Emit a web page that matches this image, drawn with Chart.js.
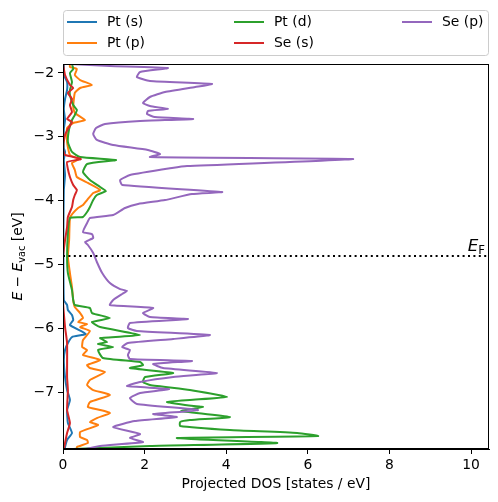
<!DOCTYPE html>
<html>
<head>
<meta charset="utf-8">
<script src="https://cdn.jsdelivr.net/npm/chart.js@4.4.1/dist/chart.umd.min.js"></script>
<style>
  html, body { margin: 0; padding: 0; background: #fff; }
  canvas { display: block; }
</style>
</head>
<body>
<canvas id="chart" width="498" height="502"></canvas>
<script>
// projected DOS: [energy (eV), states / eV]
const ptS = [[-1.859,0.02],[-2.031,0.02],[-2.141,0.10],[-2.266,0.10],[-2.408,0.05],[-2.564,0.02],[-2.737,0.05],[-2.878,0.02],[-3.176,0.02],[-3.238,0.05],[-3.364,0.02],[-3.599,0.05],[-3.834,0.02],[-4.5,0.01],[-5.558,0.02],[-5.636,0.10],[-5.715,0.12],[-5.793,0.22],[-5.871,0.25],[-5.950,0.17],[-6.091,0.56],[-6.138,0.22],[-6.232,0.12],[-6.342,0.05],[-6.498,0.02],[-6.765,0.05],[-6.969,0.10],[-7.125,0.17],[-7.282,0.10],[-7.486,0.12],[-7.643,0.22],[-7.752,0.10],[-7.862,0.05],[-7.893,0.05]]

const ptP = [[-1.859,0.17],[-1.906,0.17],[-1.937,0.34],[-2.031,0.29],[-2.110,0.42],[-2.188,0.71],[-2.235,0.42],[-2.313,0.29],[-2.533,0.25],[-2.627,0.29],[-2.737,0.54],[-2.784,0.25],[-2.862,0.10],[-3.082,0.10],[-3.285,0.17],[-3.348,0.39],[-3.411,0.22],[-3.520,0.29],[-3.630,0.34],[-3.724,0.61],[-3.834,0.91],[-3.881,0.74],[-3.991,0.59],[-4.069,0.49],[-4.116,0.37],[-4.194,0.25],[-4.273,0.17],[-4.618,0.15],[-4.884,0.12],[-5.135,0.17],[-5.354,0.22],[-5.558,0.25],[-5.668,0.29],[-5.762,0.42],[-5.840,0.49],[-5.903,0.37],[-5.934,0.59],[-5.981,0.42],[-6.044,0.66],[-6.185,0.49],[-6.295,0.47],[-6.342,0.59],[-6.420,0.49],[-6.498,0.91],[-6.577,0.59],[-6.624,0.66],[-6.687,1.03],[-6.812,0.66],[-6.890,0.59],[-6.969,0.74],[-7.047,1.15],[-7.157,0.66],[-7.235,0.61],[-7.282,0.91],[-7.329,1.15],[-7.408,0.83],[-7.470,0.66],[-7.517,0.86],[-7.627,0.42],[-7.705,0.42],[-7.752,0.59],[-7.799,0.61],[-7.862,0.34],[-7.893,0.34]]

const ptD = [[-1.859,0.22],[-1.937,0.25],[-2.000,0.17],[-2.141,0.22],[-2.266,0.17],[-2.345,0.17],[-2.502,0.25],[-2.580,0.34],[-2.658,0.29],[-2.737,0.22],[-2.878,0.15],[-3.082,0.12],[-3.238,0.22],[-3.317,0.42],[-3.364,1.30],[-3.426,0.59],[-3.552,0.49],[-3.677,0.66],[-3.787,0.91],[-3.850,1.05],[-3.912,0.83],[-3.991,0.74],[-4.100,0.66],[-4.179,0.59],[-4.257,0.49],[-4.273,0.17],[-4.508,0.12],[-4.884,0.10],[-5.135,0.12],[-5.401,0.22],[-5.558,0.25],[-5.636,0.29],[-5.683,0.66],[-5.762,0.71],[-5.840,1.15],[-5.903,0.71],[-5.981,0.91],[-6.107,1.89],[-6.154,0.91],[-6.216,1.08],[-6.248,0.86],[-6.295,1.23],[-6.342,0.86],[-6.467,0.98],[-6.530,1.89],[-6.577,1.96],[-6.624,1.64],[-6.702,2.70],[-6.765,2.01],[-6.843,1.96],[-6.890,2.13],[-6.969,3.11],[-7.078,4.02],[-7.125,3.11],[-7.157,2.55],[-7.204,2.99],[-7.235,3.43],[-7.298,2.90],[-7.392,4.09],[-7.439,3.11],[-7.470,2.87],[-7.533,2.87],[-7.596,4.09],[-7.643,5.74],[-7.690,6.25],[-7.721,2.79],[-7.799,5.25],[-7.846,2.13],[-7.893,0.25]]

const seS = [[-1.859,0.00],[-2.031,0.05],[-2.188,0.17],[-2.235,0.25],[-2.313,0.12],[-2.408,0.22],[-2.502,0.17],[-2.611,0.22],[-2.721,0.10],[-2.768,0.22],[-2.878,0.12],[-2.972,0.05],[-3.191,0.00],[-3.285,0.05],[-3.348,0.44],[-3.395,0.10],[-3.505,0.12],[-3.630,0.17],[-3.755,0.25],[-3.834,0.34],[-3.912,0.29],[-3.991,0.25],[-4.100,0.22],[-4.257,0.12],[-4.414,0.10],[-4.618,0.05],[-4.884,0.00],[-5.558,0.00],[-5.981,0.05],[-6.232,0.10],[-6.765,0.10],[-6.969,0.12],[-7.282,0.10],[-7.486,0.17],[-7.643,0.10],[-7.799,0.05],[-7.893,0.02]]

const seP = [[-1.859,0.17],[-1.890,1.15],[-1.922,2.57],[-1.984,1.89],[-2.063,1.81],[-2.125,2.13],[-2.172,3.65],[-2.219,3.24],[-2.298,2.50],[-2.376,2.13],[-2.470,1.96],[-2.517,2.13],[-2.564,2.57],[-2.596,2.08],[-2.643,2.06],[-2.690,2.25],[-2.721,3.19],[-2.752,1.89],[-2.799,1.03],[-2.862,0.81],[-2.956,0.74],[-3.050,0.83],[-3.129,1.23],[-3.207,2.08],[-3.270,2.38],[-3.317,2.13],[-3.348,7.11],[-3.458,3.04],[-3.489,2.67],[-3.599,1.64],[-3.677,1.40],[-3.755,1.45],[-3.865,3.90],[-3.897,3.16],[-3.991,2.50],[-4.053,1.84],[-4.116,1.52],[-4.226,1.23],[-4.273,0.66],[-4.351,0.59],[-4.492,0.49],[-4.524,0.71],[-4.586,0.74],[-4.649,0.54],[-4.696,0.61],[-4.821,0.74],[-4.962,0.83],[-5.135,0.96],[-5.292,1.15],[-5.386,1.40],[-5.417,1.57],[-5.464,1.45],[-5.558,1.23],[-5.636,1.15],[-5.683,2.21],[-5.762,1.96],[-5.824,2.13],[-5.856,3.06],[-5.918,1.64],[-5.997,1.59],[-6.044,1.81],[-6.107,3.60],[-6.169,2.70],[-6.232,1.59],[-6.295,1.45],[-6.342,1.64],[-6.420,1.59],[-6.483,1.64],[-6.514,3.16],[-6.561,2.21],[-6.624,2.45],[-6.702,3.77],[-6.765,2.70],[-6.843,1.89],[-6.906,1.57],[-6.953,2.60],[-7.016,1.89],[-7.094,1.64],[-7.188,1.81],[-7.282,3.31],[-7.345,2.21],[-7.392,2.79],[-7.455,1.76],[-7.549,1.23],[-7.658,1.89],[-7.721,1.64],[-7.784,1.96],[-7.846,0.91],[-7.893,0.54]]

const seriesLabels = ['Pt (s)', 'Pt (p)', 'Pt (d)', 'Se (s)', 'Se (p)']
const seriesColors = ['#1f77b4', '#ff7f0e', '#2ca02c', '#d62728', '#9467bd']
const fermiLevel = -4.868
const xTickValues = [0, 2, 4, 6, 8, 10]
const yTickValues = [-7, -6, -5, -4, -3, -2]
const xRange = [0, 10.44]
const yRange = [-7.893, -1.859]

const FONT = 'DejaVu Sans'
const curves = [ptS, ptP, ptD, seS, seP]

const datasets = curves.map((curve, i) => ({
  label: seriesLabels[i],
  data: curve.map(p => ({ x: p[1], y: p[0] })),
  borderColor: seriesColors[i],
  borderWidth: 2,
  pointRadius: 0,
  showLine: true,
  tension: 0.15,
  order: curves.length - i
}))

datasets.push({
  label: 'EF',
  data: [{ x: xRange[0], y: fermiLevel }, { x: xRange[1], y: fermiLevel }],
  borderColor: '#000',
  borderWidth: 2,
  borderDash: [2, 3.4],
  pointRadius: 0,
  showLine: true,
  order: 0
})

// draw text pieces left to right, return width
function pieces (ctx, parts, draw) {
  let w = 0
  parts.forEach(p => {
    ctx.font = p.font
    if (draw) ctx.fillText(p.text, draw.x + w, draw.y + (p.dy || 0))
    w += ctx.measureText(p.text).width
  })
  return w
}

const decorations = {
  id: 'decorations',
  afterDraw (chart) {
    const { ctx, chartArea: a, scales } = chart
    ctx.save()
    // frame
    ctx.strokeStyle = '#000'
    ctx.lineWidth = 1
    ctx.strokeRect(a.left + 0.5, a.top + 0.5, a.right - a.left - 1, a.bottom - a.top - 1)

    // legend box
    ctx.fillStyle = 'rgba(255,255,255,0.8)'
    ctx.strokeStyle = '#cccccc'
    ctx.beginPath()
    ctx.roundRect(63.5, 10.5, 425, 45, 3)
    ctx.fill()
    ctx.stroke()
    const cols = [67, 234, 402]
    const rows = [22, 43]
    ctx.font = '13.89px "' + FONT + '"'
    ctx.textBaseline = 'middle'
    seriesLabels.forEach((lab, i) => {
      const cx = cols[Math.floor(i / 2)]
      const cy = rows[i % 2]
      ctx.strokeStyle = seriesColors[i]
      ctx.lineWidth = 2
      ctx.beginPath()
      ctx.moveTo(cx, cy)
      ctx.lineTo(cx + 30, cy)
      ctx.stroke()
      ctx.fillStyle = '#000'
      ctx.fillText(lab, cx + 40, cy)
    })

    // y axis title: E - E_vac [eV]
    ctx.textBaseline = 'alphabetic'
    const big = '13.89px "' + FONT + '"'
    const ital = 'oblique 13.89px "' + FONT + '"'
    const small = '9.7px "' + FONT + '"'
    const yParts = [
      { text: 'E', font: ital },
      { text: ' \u2212 ', font: big },
      { text: 'E', font: ital },
      { text: 'vac', font: small, dy: 3 },
      { text: ' [eV]', font: big }
    ]
    const w = pieces(ctx, yParts)
    ctx.translate(22, (a.top + a.bottom) / 2)
    ctx.rotate(-Math.PI / 2)
    ctx.fillStyle = '#000'
    pieces(ctx, yParts, { x: -w / 2, y: 0 })
    ctx.setTransform(1, 0, 0, 1, 0, 0)

    // E_F label
    const fParts = [
      { text: 'E', font: 'oblique 16.7px "' + FONT + '"' },
      { text: 'F', font: '11.7px "' + FONT + '"', dy: 3 }
    ]
    const fw = pieces(ctx, fParts)
    const fx = scales.x.getPixelForValue(xRange[1]) - fw - 4
    const fy = scales.y.getPixelForValue(fermiLevel) - 5
    pieces(ctx, fParts, { x: fx, y: fy })
    ctx.restore()
  }
}

const tickFont = { family: FONT, size: 13.89 }

new Chart(document.getElementById('chart'), {
  type: 'scatter',
  data: { datasets },
  plugins: [decorations],
  options: {
    responsive: false,
    animation: false,
    layout: { padding: { top: 64, right: 9, left: 0, bottom: 0 } },
    plugins: { legend: { display: false }, tooltip: { enabled: false } },
    scales: {
      x: {
        type: 'linear',
        min: xRange[0],
        max: xRange[1],
        afterFit: s => { s.height = 53 },
        afterBuildTicks: s => { s.ticks = xTickValues.map(v => ({ value: v })) },
        ticks: { font: tickFont, color: '#000', padding: 3, maxRotation: 0 },
        grid: { drawOnChartArea: false, tickLength: 5, tickColor: '#000' },
        border: { color: '#000' },
        title: {
          display: true,
          text: 'Projected DOS [states / eV]',
          font: tickFont,
          color: '#000',
          padding: { top: 0, bottom: 9 }
        }
      },
      y: {
        type: 'linear',
        min: yRange[0],
        max: yRange[1],
        afterFit: s => { s.width = 63 },
        afterBuildTicks: s => { s.ticks = yTickValues.map(v => ({ value: v })) },
        ticks: {
          font: tickFont,
          color: '#000',
          padding: 4,
          callback: v => (v < 0 ? '\u2212' : '') + Math.abs(v)
        },
        grid: { drawOnChartArea: false, tickLength: 5, tickColor: '#000' },
        border: { color: '#000' }
      }
    }
  }
})
</script>
</body>
</html>
